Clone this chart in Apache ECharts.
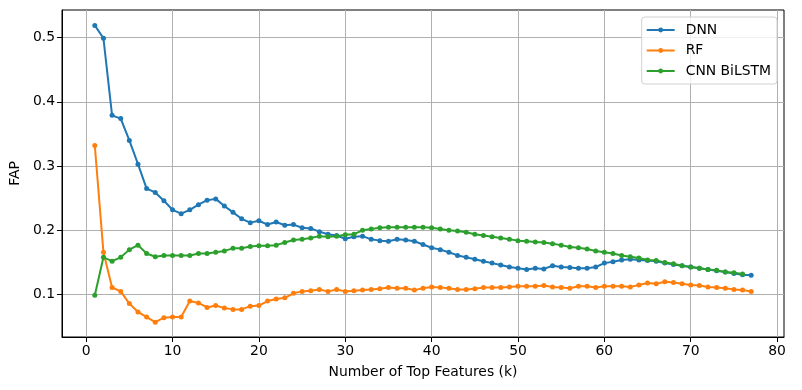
<!DOCTYPE html>
<html style="height: 100%">
<head>
    <meta charset="utf-8">
</head>
<body style="height: 100%; margin: 0; background: #fff">
<div id="container" style="width: 802px; height: 390px"></div>

<script type="text/javascript" src="https://cdn.jsdelivr.net/npm/echarts@6/dist/echarts.min.js"></script>

<script type="text/javascript">
    // k = 1..77
    var ks = [];
    for (var i = 1; i <= 77; i++) ks.push(i);

    var dnn = [
        0.519, 0.499, 0.379, 0.374, 0.340, 0.303, 0.265, 0.259, 0.246, 0.232,
        0.226, 0.232, 0.240, 0.247, 0.249, 0.238, 0.228, 0.218, 0.212, 0.215,
        0.209, 0.213, 0.208, 0.209, 0.204, 0.203, 0.198, 0.194, 0.192, 0.187,
        0.190, 0.191, 0.186, 0.184, 0.183, 0.186, 0.185, 0.183, 0.178, 0.173,
        0.170, 0.166, 0.161, 0.158, 0.155, 0.152, 0.149, 0.146, 0.143, 0.141,
        0.139, 0.141, 0.140, 0.145, 0.143, 0.142, 0.141, 0.141, 0.143, 0.149,
        0.151, 0.154, 0.155, 0.154, 0.153, 0.152, 0.149, 0.147, 0.145, 0.143,
        0.141, 0.139, 0.137, 0.135, 0.133, 0.131, 0.130
    ];
    var rf = [
        0.332, 0.166, 0.111, 0.105, 0.086, 0.073, 0.065, 0.057, 0.064, 0.065,
        0.065, 0.090, 0.087, 0.080, 0.083, 0.079, 0.077, 0.077, 0.082, 0.083,
        0.090, 0.093, 0.095, 0.102, 0.105, 0.106, 0.108, 0.105, 0.108, 0.105,
        0.106, 0.107, 0.108, 0.109, 0.111, 0.110, 0.110, 0.107, 0.110, 0.112,
        0.111, 0.110, 0.108, 0.108, 0.109, 0.111, 0.111, 0.111, 0.112, 0.113,
        0.113, 0.113, 0.114, 0.112, 0.111, 0.110, 0.113, 0.113, 0.111, 0.113,
        0.113, 0.113, 0.112, 0.115, 0.118, 0.117, 0.120, 0.119, 0.117, 0.115,
        0.114, 0.112, 0.111, 0.110, 0.108, 0.107, 0.105
    ];
    var cnnBilstm = [
        0.099, 0.158, 0.152, 0.158, 0.170, 0.177, 0.164, 0.159, 0.161, 0.161,
        0.161, 0.161, 0.164, 0.164, 0.166, 0.168, 0.172, 0.172, 0.175, 0.176,
        0.176, 0.177, 0.181, 0.185, 0.186, 0.188, 0.191, 0.190, 0.191, 0.193,
        0.194, 0.200, 0.202, 0.204, 0.205, 0.205, 0.205, 0.205, 0.205, 0.204,
        0.202, 0.200, 0.199, 0.197, 0.194, 0.192, 0.190, 0.188, 0.186, 0.184,
        0.183, 0.182, 0.181, 0.179, 0.177, 0.174, 0.173, 0.171, 0.168, 0.166,
        0.164, 0.161, 0.159, 0.157, 0.154, 0.153, 0.150, 0.148, 0.145, 0.143,
        0.141, 0.139, 0.138, 0.135, 0.134, 0.132
    ];

    var xTicks = [0, 10, 20, 30, 40, 50, 60, 70, 80];
    var yTicks = [0.1, 0.2, 0.3, 0.4, 0.5];

    function pairs(vals) {
        return vals.map(function (v, i) { return [ks[i], v]; });
    }

    var font = 'DejaVu Sans';
    var fs = 13.9;
    var dom = document.getElementById('container');
    var myChart = echarts.init(dom);

    function lineSeries(name, vals, color) {
        return {
            name: name,
            type: 'line',
            data: pairs(vals),
            symbol: 'circle',
            symbolSize: 5,
            showSymbol: true,
            lineStyle: { width: 2, color: color },
            itemStyle: { color: color },
            emphasis: { disabled: true }
        };
    }

    var option = {
        animation: false,
        backgroundColor: '#fff',
        textStyle: { fontFamily: font },
        grid: {
            left: 61, right: 18, top: 10, bottom: 53,
            show: true, borderColor: '#000', borderWidth: 1,
            containLabel: false
        },
        legend: {
            orient: 'vertical',
            right: 25,
            top: 17,
            padding: [6, 6, 6, 4],
            itemWidth: 28,
            itemHeight: 6,
            itemGap: 6.5,
            borderColor: '#d0d0d0',
            borderWidth: 1,
            borderRadius: 3,
            backgroundColor: 'rgba(255,255,255,0.8)',
            textStyle: { fontFamily: font, fontSize: fs, color: '#000', padding: [0, 0, 0, 6] },
            data: ['DNN', 'RF', 'CNN BiLSTM']
        },
        xAxis: {
            type: 'value',
            min: -2.8,
            max: 80.8,
            name: 'Number of Top Features (k)',
            nameLocation: 'middle',
            nameGap: 28,
            nameTextStyle: { fontFamily: font, fontSize: fs, color: '#000' },
            axisLine: { show: true, onZero: false, lineStyle: { color: '#000', width: 1 } },
            axisTick: { show: true, inside: false, length: 5, customValues: xTicks, lineStyle: { color: '#000' } },
            axisLabel: { fontFamily: font, fontSize: fs, color: '#000', margin: 7, customValues: xTicks },
            splitLine: { show: true, lineStyle: { color: '#b0b0b0', width: 1 } }
        },
        yAxis: {
            type: 'value',
            min: 0.034,
            max: 0.543,
            name: 'FAP',
            nameLocation: 'middle',
            nameGap: 31,
            nameTextStyle: { fontFamily: font, fontSize: fs, color: '#000' },
            axisLine: { show: true, onZero: false, lineStyle: { color: '#000', width: 1 } },
            axisTick: { show: true, inside: false, length: 5, customValues: yTicks, lineStyle: { color: '#000' } },
            axisLabel: { fontFamily: font, fontSize: fs, color: '#000', margin: 7, customValues: yTicks },
            splitLine: { show: true, lineStyle: { color: '#b0b0b0', width: 1 } }
        },
        series: [
            lineSeries('DNN', dnn, '#1f77b4'),
            lineSeries('RF', rf, '#ff7f0e'),
            lineSeries('CNN BiLSTM', cnnBilstm, '#2ca02c')
        ]
    };

    myChart.setOption(option);
</script>
</body>
</html>
